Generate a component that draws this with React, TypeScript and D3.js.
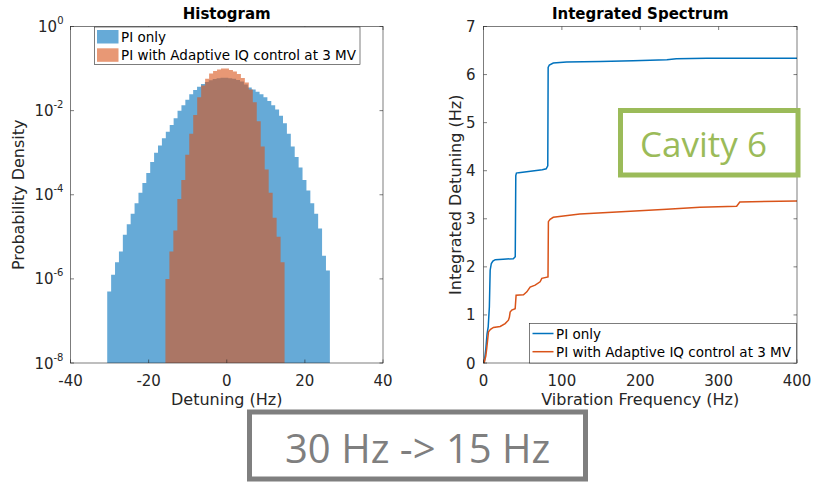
import React from "react";
import * as d3 from "d3";

// Histogram of detuning (bins)
const piOnlyBinStart = -30.6;
const piOnlyBinWidth = 1;
const piOnlyDensity = [
  5.0e-7, 1.26e-6, 2.5e-6, 4.5e-6, 1.12e-5, 2.0e-5, 3.55e-5, 6.3e-5, 1.12e-4, 1.9e-4,
  3.3e-4, 6.0e-4, 1.0e-3, 1.48e-3, 2.19e-3, 3.16e-3, 4.57e-3, 6.6e-3, 1.0e-2, 1.35e-2,
  1.82e-2, 2.45e-2, 3.09e-2, 3.72e-2, 4.27e-2, 4.79e-2, 5.25e-2, 5.62e-2, 5.89e-2, 6.03e-2,
  6.03e-2, 5.89e-2, 5.75e-2, 5.37e-2, 4.9e-2, 4.17e-2, 3.55e-2, 3.16e-2, 2.82e-2, 2.45e-2,
  2.09e-2, 1.7e-2, 1.35e-2, 1.07e-2, 7.6e-3, 5.0e-3, 2.82e-3, 1.41e-3, 7.9e-4, 4.47e-4,
  2.24e-4, 1.26e-4, 6.3e-5, 3.55e-5, 1.58e-5, 3.55e-6, 1.58e-6,
];
const adaptiveBinStart = -15.7;
const adaptiveBinWidth = 1.0167;
const adaptiveDensity = [
  1.0e-6, 4.5e-6, 1.41e-5, 7.9e-5, 2.24e-4, 8.9e-4, 2.82e-3, 7.9e-3, 2.09e-2, 3.98e-2,
  5.75e-2, 7.6e-2, 8.7e-2, 9.5e-2, 0.1, 0.1, 9.3e-2, 8.5e-2, 7.4e-2, 6.0e-2,
  4.68e-2, 3.16e-2, 1.58e-2, 5.6e-3, 1.41e-3, 3.98e-4, 1.12e-4, 2.82e-5, 1.0e-5, 2.5e-6,
];

// Integrated spectrum
const piOnlyFreq = [0, 1, 3, 4.5, 6, 7.5, 8.5, 10, 12, 15, 25, 38, 40.5, 41.2, 42, 45, 60, 75, 80, 82, 82.5, 84, 89, 106, 149, 191, 234, 246, 285, 400];
const piOnlyIntegrated = [0, 0.02, 0.3, 0.6, 0.75, 1.17, 1.93, 2.07, 2.12, 2.15, 2.16, 2.17, 2.21, 3.9, 3.95, 3.96, 3.99, 4.02, 4.04, 4.1, 6.15, 6.2, 6.24, 6.26, 6.27, 6.29, 6.31, 6.33, 6.34, 6.34];
const adaptiveFreq = [0, 1, 3, 4.3, 6.4, 9, 12.7, 21.3, 27.6, 31.8, 33, 34, 36.1, 40.4, 41.6, 51, 55.3, 59.5, 65.9, 72.2, 74.4, 82.3, 82.8, 85, 89, 102, 123, 170, 234, 276, 323, 327, 400];
const adaptiveIntegrated = [0, 0.02, 0.15, 0.33, 0.65, 0.7, 0.74, 0.76, 0.82, 0.89, 0.95, 1.06, 1.1, 1.13, 1.41, 1.42, 1.48, 1.58, 1.62, 1.69, 1.76, 1.79, 2.94, 2.99, 3.03, 3.06, 3.1, 3.14, 3.2, 3.24, 3.26, 3.35, 3.37];

const seriesNames = ["PI only", "PI with Adaptive IQ control at 3 MV"];
const detuningTicks = [-40, -20, 0, 20, 40];
const densityExponents = [0, -2, -4, -6, -8];
const frequencyTicks = [0, 100, 200, 300, 400];
const integratedTicks = [0, 1, 2, 3, 4, 5, 6, 7];

const blue = "#0072BD";
const orange = "#D95319";
const axisColor = "#262626";
const font = "DejaVu Sans";

const width = 813;
const height = 483;

const App = () => {
  // left panel
  const L = { left: 70.5, right: 383, top: 26.5, bottom: 363 };
  const xh = d3.scaleLinear().domain([-40, 40]).range([L.left, L.right]);
  const yh = d3.scaleLog().domain([1e-8, 1]).range([L.bottom, L.top]);

  // right panel
  const R = { left: 483.5, right: 797, top: 26.5, bottom: 363 };
  const xs = d3.scaleLinear().domain([0, 400]).range([R.left, R.right]);
  const ys = d3.scaleLinear().domain([0, 7]).range([R.bottom, R.top]);

  const histPoints = (start: number, w: number, vals: number[]) => {
    const pts: [number, number][] = vals.map((v, i) => [start + i * w, v]);
    pts.push([start + vals.length * w, vals[vals.length - 1]]);
    return pts;
  };
  const histArea = d3
    .area<[number, number]>()
    .x((d) => xh(d[0]))
    .y0(yh(1e-8))
    .y1((d) => yh(d[1]))
    .curve(d3.curveStepAfter);

  const line = d3
    .line<[number, number]>()
    .x((d) => xs(d[0]))
    .y((d) => ys(d[1]));
  const piLine = piOnlyFreq.map((f, i) => [f, piOnlyIntegrated[i]] as [number, number]);
  const aiqLine = adaptiveFreq.map((f, i) => [f, adaptiveIntegrated[i]] as [number, number]);

  const tick = 3.5;

  return (
    <svg
      width={width}
      height={height}
      style={{ position: "absolute", left: 0, top: 0, background: "#fff" }}
      fontFamily={font}
    >
      {/* ---------- Histogram ---------- */}
      <path d={histArea(histPoints(piOnlyBinStart, piOnlyBinWidth, piOnlyDensity)) || ""} fill={blue} fillOpacity={0.6} />
      <path d={histArea(histPoints(adaptiveBinStart, adaptiveBinWidth, adaptiveDensity)) || ""} fill={orange} fillOpacity={0.6} />

      <rect x={L.left} y={L.top} width={L.right - L.left} height={L.bottom - L.top} fill="none" stroke={axisColor} strokeWidth={0.6} />
      {detuningTicks.map((t) => (
        <g key={"xh" + t}>
          <line x1={xh(t)} x2={xh(t)} y1={L.bottom} y2={L.bottom - tick} stroke={axisColor} strokeWidth={0.6} />
          <line x1={xh(t)} x2={xh(t)} y1={L.top} y2={L.top + tick} stroke={axisColor} strokeWidth={0.6} />
          <text x={xh(t)} y={386} textAnchor="middle" fontSize={15} fill={axisColor}>
            {t < 0 ? "-" + Math.abs(t) : t}
          </text>
        </g>
      ))}
      {densityExponents.map((e) => (
        <g key={"yh" + e}>
          <line x1={L.left} x2={L.left + tick} y1={yh(10 ** e)} y2={yh(10 ** e)} stroke={axisColor} strokeWidth={0.6} />
          <line x1={L.right} x2={L.right - tick} y1={yh(10 ** e)} y2={yh(10 ** e)} stroke={axisColor} strokeWidth={0.6} />
          <text x={L.left - 7} y={yh(10 ** e) + 5.5} textAnchor="end" fontSize={15} fill={axisColor}>
            10
            <tspan fontSize={10} dy={-8}>
              {e < 0 ? "-" + Math.abs(e) : e}
            </tspan>
          </text>
        </g>
      ))}
      <text x={(L.left + L.right) / 2} y={19} textAnchor="middle" fontSize={15} fontWeight="bold" fill="#000">
        Histogram
      </text>
      <text x={(L.left + L.right) / 2} y={405} textAnchor="middle" fontSize={16} fill={axisColor}>
        Detuning (Hz)
      </text>
      <text transform={`translate(24,${(L.top + L.bottom) / 2}) rotate(-90)`} textAnchor="middle" fontSize={16} fill={axisColor}>
        Probability Density
      </text>

      {/* histogram legend */}
      <rect x={94.5} y={27} width={265.5} height={37.5} fill="#fff" stroke={axisColor} strokeWidth={0.6} />
      <rect x={97} y={30} width={21.5} height={13.5} fill={blue} fillOpacity={0.6} />
      <rect x={97} y={48.3} width={21.5} height={13.5} fill={orange} fillOpacity={0.6} />
      <text x={121} y={42} fontSize={13.5} fill="#000">{seriesNames[0]}</text>
      <text x={121} y={60} fontSize={13.5} fill="#000">{seriesNames[1]}</text>

      {/* ---------- Integrated Spectrum ---------- */}
      <path d={line(piLine) || ""} fill="none" stroke={blue} strokeWidth={1.5} />
      <path d={line(aiqLine) || ""} fill="none" stroke={orange} strokeWidth={1.5} />

      <rect x={R.left} y={R.top} width={R.right - R.left} height={R.bottom - R.top} fill="none" stroke={axisColor} strokeWidth={0.6} />
      {frequencyTicks.map((t) => (
        <g key={"xs" + t}>
          <line x1={xs(t)} x2={xs(t)} y1={R.bottom} y2={R.bottom - tick} stroke={axisColor} strokeWidth={0.6} />
          <line x1={xs(t)} x2={xs(t)} y1={R.top} y2={R.top + tick} stroke={axisColor} strokeWidth={0.6} />
          <text x={xs(t)} y={386} textAnchor="middle" fontSize={15} fill={axisColor}>
            {t}
          </text>
        </g>
      ))}
      {integratedTicks.map((t) => (
        <g key={"ys" + t}>
          <line x1={R.left} x2={R.left + tick} y1={ys(t)} y2={ys(t)} stroke={axisColor} strokeWidth={0.6} />
          <line x1={R.right} x2={R.right - tick} y1={ys(t)} y2={ys(t)} stroke={axisColor} strokeWidth={0.6} />
          <text x={R.left - 8} y={ys(t) + 5.5} textAnchor="end" fontSize={15} fill={axisColor}>
            {t}
          </text>
        </g>
      ))}
      <text x={(R.left + R.right) / 2} y={19} textAnchor="middle" fontSize={15} fontWeight="bold" fill="#000">
        Integrated Spectrum
      </text>
      <text x={(R.left + R.right) / 2} y={405} textAnchor="middle" fontSize={16} fill={axisColor}>
        Vibration Frequency (Hz)
      </text>
      <text transform={`translate(461,${(R.top + R.bottom) / 2}) rotate(-90)`} textAnchor="middle" fontSize={16} fill={axisColor}>
        Integrated Detuning (Hz)
      </text>

      {/* spectrum legend */}
      <rect x={529.5} y={323.5} width={267} height={39.5} fill="#fff" stroke={axisColor} strokeWidth={0.6} />
      <line x1={532.5} x2={553.5} y1={333.5} y2={333.5} stroke={blue} strokeWidth={1.5} />
      <line x1={532.5} x2={553.5} y1={351.7} y2={351.7} stroke={orange} strokeWidth={1.5} />
      <text x={556} y={338.5} fontSize={13.5} fill="#000">{seriesNames[0]}</text>
      <text x={556} y={357} fontSize={13.5} fill="#000">{seriesNames[1]}</text>

      {/* annotations */}
      <rect x={620.5} y={110.5} width={177.5} height={64.5} fill="#fff" stroke="#9BBB59" strokeWidth={5} />
      <text x={640} y={157} fontSize={35} fontFamily="Open Sans" fill="#9BBB59">
        Cavity 6
      </text>
      <rect x={249.5} y={412} width={336} height={67} fill="#fff" stroke="#7F7F7F" strokeWidth={5} />
      <text x={285} y={463} fontSize={40} fontFamily="Open Sans" fill="#7F7F7F">
        30 Hz -&gt; 15 Hz
      </text>
    </svg>
  );
};

export default App;
